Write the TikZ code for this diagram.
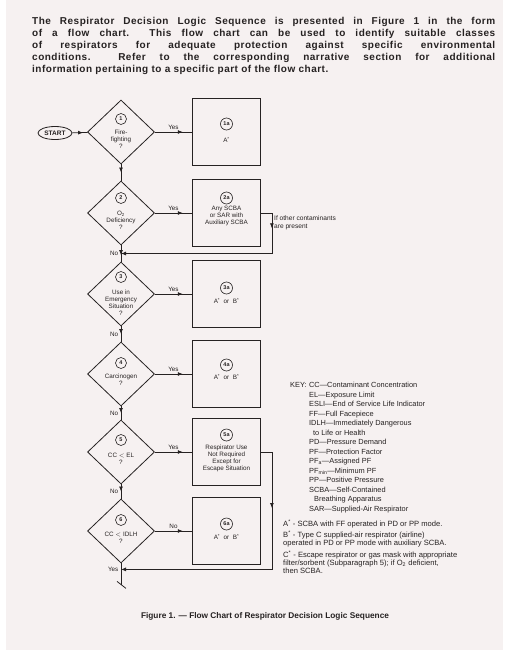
\documentclass[tikz,border=0pt]{standalone}
\usepackage{fontspec}
\setmainfont{Liberation Sans}
\newfontfamily\introfont[LetterSpace=5]{Liberation Sans}
\usetikzlibrary{shapes.geometric,positioning,arrows.meta,decorations.markings}

\definecolor{paper}{RGB}{246,241,241}
\definecolor{ink}{RGB}{38,34,34}

\tikzset{
	decision/.style={diamond, draw, line width=0.8pt, minimum width=67pt, minimum height=64pt, inner sep=0pt},
	outcome/.style={rectangle, draw, line width=0.8pt, minimum width=68pt, minimum height=67pt, inner sep=0pt},
	stepno/.style={circle, draw, line width=0.6pt, inner sep=0pt, minimum size=11pt, font=\fontsize{5.5}{5.5}\selectfont\bfseries},
	boxno/.style={stepno, minimum size=12pt},
	chart/.style={font=\fontsize{6.3}{7}\selectfont, align=center, inner sep=0pt},
	edgelabel/.style={font=\fontsize{6.3}{7}\selectfont, inner sep=2.5pt},
	flow/.style={line width=0.8pt, postaction={decorate},
		decoration={markings, mark=at position #1 with {\arrow{Latex[length=5pt,width=4pt]}}}},
	flow/.default=0.75,
	tip/.style={-{Latex[length=5pt,width=4pt]}},
}

\begin{document}
\begin{tikzpicture}[x=1pt, y=-1pt, color=ink]
	\useasboundingbox (0,0) rectangle (522,654);
	\fill[white] (0,0) rectangle (522,654);
	\fill[paper] (6,0) rectangle (503,650);

	% intro text
	\node[anchor=north west, text width=463pt, inner sep=0pt, align=justify,
		font=\introfont\bfseries\fontsize{10}{12}\selectfont] (intro) at (32,17.5)
		{The Respirator Decision Logic Sequence is presented in Figure 1 in the form\linebreak
		of a flow chart.\ \ This flow chart can be used to identify suitable classes\linebreak
		of respirators for adequate protection against specific environmental\linebreak
		conditions.\ \ Refer to the corresponding narrative section for additional\linebreak
		information pertaining to a specific part of the flow chart.};

	% start
	\node[ellipse, draw, line width=0.8pt, minimum width=34pt, minimum height=13pt, inner sep=0pt,
		font=\fontsize{6.5}{6.5}\selectfont\bfseries] (start) at (55,133) {START};

	% decisions
	\node[decision] (d1) at (121,132) {};
	\node[stepno] (n1) at ([yshift=13pt]d1.center) {1};
	\node[chart] (q1) at ([yshift=-7pt]d1.center) {Fire-\\fighting\\?};

	\node[decision] (d2) at (121,213) {};
	\node[stepno] (n2) at ([yshift=15pt]d2.center) {2};
	\node[chart] (q2) at ([yshift=-7pt]d2.center) {O\textsubscript{2}\\Deficiency\\?};

	\node[decision] (d3) at (121,294) {};
	\node[stepno] (n3) at ([yshift=17pt]d3.center) {3};
	\node[chart] (q3) at ([yshift=-9pt]d3.center) {Use in\\Emergency\\Situation\\?};

	\node[decision] (d4) at (121,374) {};
	\node[stepno] (n4) at ([yshift=11pt]d4.center) {4};
	\node[chart] (q4) at ([yshift=-5.5pt]d4.center) {Carcinogen\\?};

	\node[decision] (d5) at (121,452) {};
	\node[stepno] (n5) at ([yshift=12pt]d5.center) {5};
	\node[chart] (q5) at ([yshift=-6.5pt]d5.center) {CC $<$ EL\\?};

	\node[decision] (d6) at (121,531) {};
	\node[stepno] (n6) at ([yshift=11pt]d6.center) {6};
	\node[chart] (q6) at ([yshift=-6.5pt]d6.center) {CC $<$ IDLH\\?};

	% outcomes
	\node[outcome] (b1) at (226.5,132) {};
	\node[boxno] (m1) at ([yshift=8pt]b1.center) {1a};
	\node[chart] (r1) at ([yshift=-8pt]b1.center) {A\textsuperscript{*}};

	\node[outcome] (b2) at (226.5,213) {};
	\node[boxno] (m2) at ([yshift=15pt]b2.center) {2a};
	\node[chart] (r2) at ([yshift=-3pt]b2.center) {Any SCBA\\or SAR with\\Auxiliary SCBA};

	\node[outcome] (b3) at (226.5,294) {};
	\node[boxno] (m3) at ([yshift=6pt]b3.center) {3a};
	\node[chart] (r3) at ([yshift=-7pt]b3.center) {A\textsuperscript{*}\ \ or\ \ B\textsuperscript{*}};

	\node[outcome] (b4) at (226.5,374) {};
	\node[boxno] (m4) at ([yshift=9pt]b4.center) {4a};
	\node[chart] (r4) at ([yshift=-3pt]b4.center) {A\textsuperscript{*}\ \ or\ \ B\textsuperscript{*}};

	\node[outcome] (b5) at (226.5,452) {};
	\node[boxno] (m5) at ([yshift=17pt]b5.center) {5a};
	\node[chart] (r5) at ([yshift=-6.5pt]b5.center) {Respirator Use\\Not Required\\Except for\\Escape Situation};

	\node[outcome] (b6) at (226.5,531) {};
	\node[boxno] (m6) at ([yshift=7pt]b6.center) {6a};
	\node[chart] (r6) at ([yshift=-6pt]b6.center) {A\textsuperscript{*}\ \ or\ \ B\textsuperscript{*}};

	% connectors
	\draw[flow=0.7] (start) -- (d1);
	\draw[flow] (d1) -- node[above, edgelabel] {Yes} (b1);
	\draw[flow] (d2) -- node[above, edgelabel] {Yes} (b2);
	\draw[flow] (d3) -- node[above, edgelabel] {Yes} (b3);
	\draw[flow] (d4) -- node[above, edgelabel] {Yes} (b4);
	\draw[flow] (d5) -- node[above, edgelabel] {Yes} (b5);
	\draw[flow] (d6) -- node[above, edgelabel] {No} (b6);

	\draw[flow=0.5] (d1) -- (d2);
	\draw[flow=0.6] (d2) -- node[left, edgelabel] {No} (d3);
	\draw[flow=0.5] (d3) -- node[left, edgelabel] {No} (d4);
	\draw[flow=0.5] (d4) -- node[left, edgelabel] {No} (d5);
	\draw[flow=0.5] (d5) -- node[left, edgelabel] {No} (d6);

	% side returns
	\path (d2.south) -- (d3.north) coordinate[pos=0.5] (j2);
	\draw[flow=0.13, tip] (b2.east) -- ++(11,0) |- (j2);
	\node[chart, anchor=west, align=left, font=\fontsize{6.6}{7.5}\selectfont] (other) at (274,223) {If other contaminants\\are present};

	\coordinate (j6) at ([yshift=-6pt]d6.south);
	\coordinate (tail) at ([yshift=-22pt]d6.south);
	\draw[line width=0.8pt] (d6.south) -- (tail);
	\draw[line width=0.8pt] ([xshift=-4pt,yshift=4pt]tail) -- ([xshift=5pt,yshift=-3pt]tail);
	\draw[flow=0.24, tip] (b5.east) -- ++(11,0) |- (j6);
	\node[edgelabel, left] (yes6) at (j6) {Yes};

	% key
	\node[anchor=north west, inner sep=0pt, font=\fontsize{7.4}{9.5}\selectfont] (key) at (290,381)
		{\begin{tabular}{@{}l@{\hspace{2.5pt}}l@{}}
		KEY: & CC—Contaminant Concentration\\
		& EL—Exposure Limit\\
		& ESLI—End of Service Life Indicator\\
		& FF—Full Facepiece\\
		& IDLH—Immediately Dangerous\\
		& \hspace{4pt}to Life or Health\\
		& PD—Pressure Demand\\
		& PF—Protection Factor\\
		& PF\textsubscript{a}—Assigned PF\\
		& PF\textsubscript{min}—Minimum PF\\
		& PP—Positive Pressure\\
		& SCBA—Self-Contained\\
		& \hspace{5pt}Breathing Apparatus\\
		& SAR—Supplied-Air Respirator
		\end{tabular}};

	% notes
	\node[anchor=north west, inner sep=0pt, align=left, font=\fontsize{7.6}{8}\selectfont] (notes) at (283,519.5)
		{A\textsuperscript{*} - SCBA with FF operated in PD or PP mode.\\[2.5pt]
		B\textsuperscript{*} - Type C supplied-air respirator (airline)\\
		operated in PD or PP mode with auxiliary SCBA.\\[2.5pt]
		C\textsuperscript{*} - Escape respirator or gas mask with appropriate\\
		filter/sorbent (Subparagraph 5); if O\textsubscript{2} deficient,\\
		then SCBA.};

	% caption
	\node[font=\bfseries\fontsize{8.3}{8.3}\selectfont] (caption) at (265,616)
		{Figure 1. — Flow Chart of Respirator Decision Logic Sequence};
\end{tikzpicture}
\end{document}
